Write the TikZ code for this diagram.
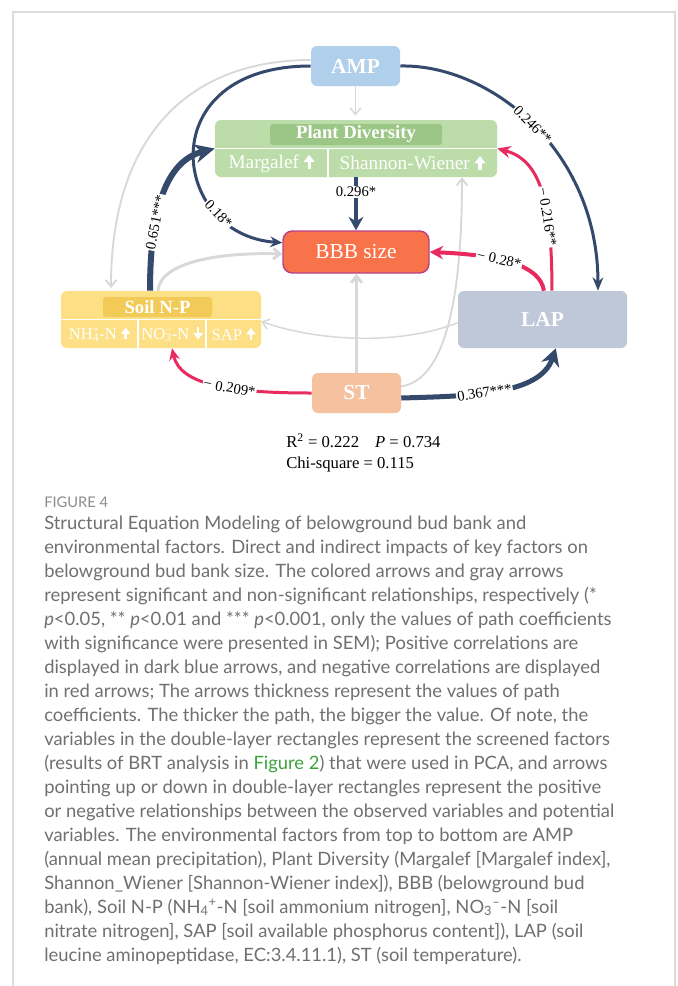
\documentclass[tikz,border=0pt]{standalone}
\usepackage{fontspec}
\setmainfont{Lato}
\newfontfamily\dfont{Liberation Serif}
\usetikzlibrary{arrows.meta, positioning}

\definecolor{navy}{HTML}{34496B}
\definecolor{sigred}{HTML}{E92A5E}
\definecolor{nsgray}{HTML}{D8D8D8}
\definecolor{ampblue}{HTML}{B0CFEA}
\definecolor{pdgreen}{HTML}{BCDCA9}
\definecolor{pdhead}{HTML}{9BC685}
\definecolor{bbborange}{HTML}{F8734A}
\definecolor{bbbedge}{HTML}{B8428A}
\definecolor{soilyellow}{HTML}{FDDF86}
\definecolor{soilhead}{HTML}{F2CA57}
\definecolor{lapgray}{HTML}{BEC8D8}
\definecolor{stpeach}{HTML}{F6C19E}
\definecolor{capgray}{HTML}{707070}
\definecolor{figgreen}{HTML}{3DA33D}
\definecolor{framegray}{HTML}{DCDCDC}

% thick white arrows used inside the boxes
\newcommand{\uarr}{\hspace{0.25em}\tikz[baseline=0pt]\draw[white,line width=0.16em,-{Triangle[length=0.38em,width=0.55em]}](0pt,0pt)--(0pt,0.72em);}
\newcommand{\darr}{\hspace{0.25em}\tikz[baseline=0pt]\draw[white,line width=0.16em,-{Triangle[length=0.38em,width=0.55em]}](0pt,0.72em)--(0pt,0pt);}

\begin{document}
\begin{tikzpicture}[
    x=0.75pt, y=-0.75pt,       % pixel grid, y downwards
    >=Stealth,
    box/.style={rectangle, rounded corners=4.5pt, inner sep=0pt, text=white,
      font=\dfont\bfseries\fontsize{16}{18}\selectfont},
    head/.style={rectangle, rounded corners=2pt, inner sep=0pt, text=white,
      font=\dfont\bfseries\fontsize{14}{16}\selectfont},
    sub/.style={inner sep=0pt, text=white, font=\dfont\fontsize{14.5}{16}\selectfont},
    soilsub/.style={inner sep=0pt, text=white, font=\dfont\fontsize{12.5}{14}\selectfont},
    coef/.style={fill=white, text=black, inner sep=0.8pt, font=\dfont\fontsize{11}{12}\selectfont},
    coefs/.style={coef, sloped},
    ns/.style={draw=nsgray, -{Straight Barb[length=5pt,width=8pt]}},
    stat/.style={inner sep=0pt, font=\dfont\fontsize{12.5}{14}\selectfont},
  ]

  \useasboundingbox (0,0) rectangle (678,986);
  \fill[white] (0,0) rectangle (678,986);
  \draw[framegray, line width=1.1pt] (13,986) -- (13,12) -- (675,12) -- (675,986);

  %--- boxes ---
  \node[box, fill=ampblue, minimum width=66.75pt, minimum height=30pt] (amp) at (355.5,66) {AMP};

  \node[box, fill=pdgreen, minimum width=211.5pt, minimum height=42.75pt] (pd) at (356,148.5) {};
  \node[head, fill=pdhead, minimum width=129pt, minimum height=15.75pt] (pdHead) at (356,134.5) {Plant Diversity};
  \draw[white, line width=0.8pt] (pd.west) -- (pd.east);
  \draw[white, line width=0.8pt] (328,148.5) -- (328,177);
  \node[sub] (margalef) at (271.5,163) {Margalef\uarr};
  \node[sub] (shannon) at (412.5,163) {Shannon-Wiener\uarr};

  \node[box, fill=bbborange, draw=bbbedge, line width=1.1pt, rounded corners=7pt,
    font=\dfont\fontsize{16}{18}\selectfont,
    minimum width=109.5pt, minimum height=31.5pt] (bbb) at (356,252) {BBB size};

  \node[box, fill=soilyellow, minimum width=150pt, minimum height=42.75pt] (soil) at (161,319.5) {};
  \node[head, fill=soilhead, minimum width=81.75pt, minimum height=15pt] (soilHead) at (157.5,307) {Soil N-P};
  \draw[white, line width=0.8pt] (soil.west) -- (soil.east);
  \draw[white, line width=0.8pt] (138,319.5) -- (138,348);
  \draw[white, line width=0.8pt] (206,319.5) -- (206,348);
  \node[soilsub] (nh) at (99.5,334) {NH\rlap{\textsuperscript{+}}\textsubscript{4}-N\uarr};
  \node[soilsub] (no) at (172,334) {NO\rlap{\textsuperscript{−}}\textsubscript{3}-N\darr};
  \node[soilsub] (sap) at (233.5,334) {SAP\uarr};

  \node[box, fill=lapgray, minimum width=126.75pt, minimum height=42.75pt] (lap) at (542.5,319.5) {LAP};
  \node[box, fill=stpeach, minimum width=66.75pt, minimum height=30pt] (st) at (356.5,393) {ST};

  %--- non-significant paths (gray) ---
  \draw[ns, line width=1.1pt, shorten >=3pt] (amp.south) -- (amp.south |- pd.north);
  \draw[ns, line width=1.4pt, shorten >=2pt] ([yshift=4.5pt]amp.west)
    .. controls (190,60) and (111,135) .. ([xshift=-37.5pt]soil.north);
  \draw[ns, line width=2.2pt] ([xshift=-2.25pt]soil.north)
    .. controls (160,262) and (220,252) .. ([yshift=-1.5pt]bbb.west);
  \draw[ns, line width=2.2pt] (st.north) -- (st.north |- bbb.south);
  \draw[ns, line width=1.4pt] ([yshift=5pt]st.east)
    .. controls (445,380) and (462,300) .. ([xshift=79.5pt]pd.south);
  \draw[ns, line width=1.1pt] ([yshift=-2.5pt]lap.west)
    .. controls (400,345) and (320,342) .. ([yshift=-1.5pt]soil.east);

  %--- significant paths ---
  \draw[navy, line width=2.25pt, -{Stealth[length=10pt,width=8pt]}] (amp.east)
    .. controls (490,64) and (598,150) .. ([xshift=41.6pt]lap.north)
    node[coefs, pos=.5] {0.246**};
  \draw[navy, line width=2.25pt, -{Stealth[length=9pt,width=8pt]}] (amp.west)
    .. controls (150,66) and (170,235) .. ([yshift=7pt]bbb.west)
    node[coefs, pos=.76] {0.18*};
  \draw[navy, line width=4.5pt, -{Stealth[length=15pt,width=14pt]}] ([xshift=-8.25pt]soil.north)
    .. controls (150,200) and (170,160) .. (pd.west)
    node[coefs, pos=.3] {0.651***};
  \draw[navy, line width=3pt, -{Stealth[length=10pt,width=11pt]}] (pd.south) -- (bbb.north)
    node[coef, pos=.28] {0.296*};
  \draw[sigred, line width=3pt, -{Stealth[length=10pt,width=10pt]}] ([xshift=1.1pt]lap.north)
    .. controls (540,265) and (500,255) .. (bbb.east)
    node[coefs, pos=.6] {− 0.28*};
  \draw[sigred, line width=2.25pt, -{Stealth[length=10pt,width=9pt]}] ([xshift=7.1pt]lap.north)
    .. controls (552,200) and (540,160) .. (pd.east)
    node[coefs, pos=.33] {− 0.216**};
  \draw[sigred, line width=2.25pt, -{Stealth[length=9pt,width=8pt]}] (st.west)
    .. controls (230,393) and (180,385) .. ([xshift=8.25pt]soil.south)
    node[coefs, pos=.4] {− 0.209*};
  \draw[navy, line width=3.75pt, -{Stealth[length=13pt,width=14pt]}] ([yshift=-3.75pt]st.east)
    .. controls (470,396) and (540,395) .. ([xshift=10pt]lap.south)
    node[coefs, pos=.42] {0.367***};

  %--- fit statistics ---
  \node[stat, anchor=base west] (r2) at (286,447) {R\textsuperscript{2} = 0.222\hspace{12pt}\textit{P} = 0.734};
  \node[stat, anchor=base west] (chi) at (286,468) {Chi-square = 0.115};

  %--- caption ---
  \node[inner sep=0pt, anchor=base west, text=gray!90, font=\fontsize{11}{13}\selectfont] (figno) at (44,507) {FIGURE 4};
  \foreach \ln [count=\i] in {
    {Structural Equation Modeling of belowground bud bank and},
    {environmental factors. Direct and indirect impacts of key factors on},
    {belowground bud bank size. The colored arrows and gray arrows},
    {represent significant and non-significant relationships, respectively (*},
    {\textit{p}<0.05, ** \textit{p}<0.01 and *** \textit{p}<0.001, only the values of path coefficients},
    {with significance were presented in SEM); Positive correlations are},
    {displayed in dark blue arrows, and negative correlations are displayed},
    {in red arrows; The arrows thickness represent the values of path},
    {coefficients. The thicker the path, the bigger the value. Of note, the},
    {variables in the double-layer rectangles represent the screened factors},
    {(results of BRT analysis in \textcolor{figgreen}{Figure 2}) that were used in PCA, and arrows},
    {pointing up or down in double-layer rectangles represent the positive},
    {or negative relationships between the observed variables and potential},
    {variables. The environmental factors from top to bottom are AMP},
    {(annual mean precipitation), Plant Diversity (Margalef [Margalef index],},
    {Shannon\_Wiener [Shannon-Wiener index]), BBB (belowground bud},
    {bank), Soil N-P (NH\textsubscript{4}\textsuperscript{+}-N [soil ammonium nitrogen], NO\textsubscript{3}\textsuperscript{–}-N [soil},
    {nitrate nitrogen], SAP [soil available phosphorus content]), LAP (soil},
    {leucine aminopeptidase, EC:3.4.11.1), ST (soil temperature).}}
    \node[inner sep=0pt, anchor=base west, text=capgray, font=\fontsize{13.8}{18}\selectfont]
      (cap\i) at (44,505+24*\i) {\ln};

\end{tikzpicture}
\end{document}
